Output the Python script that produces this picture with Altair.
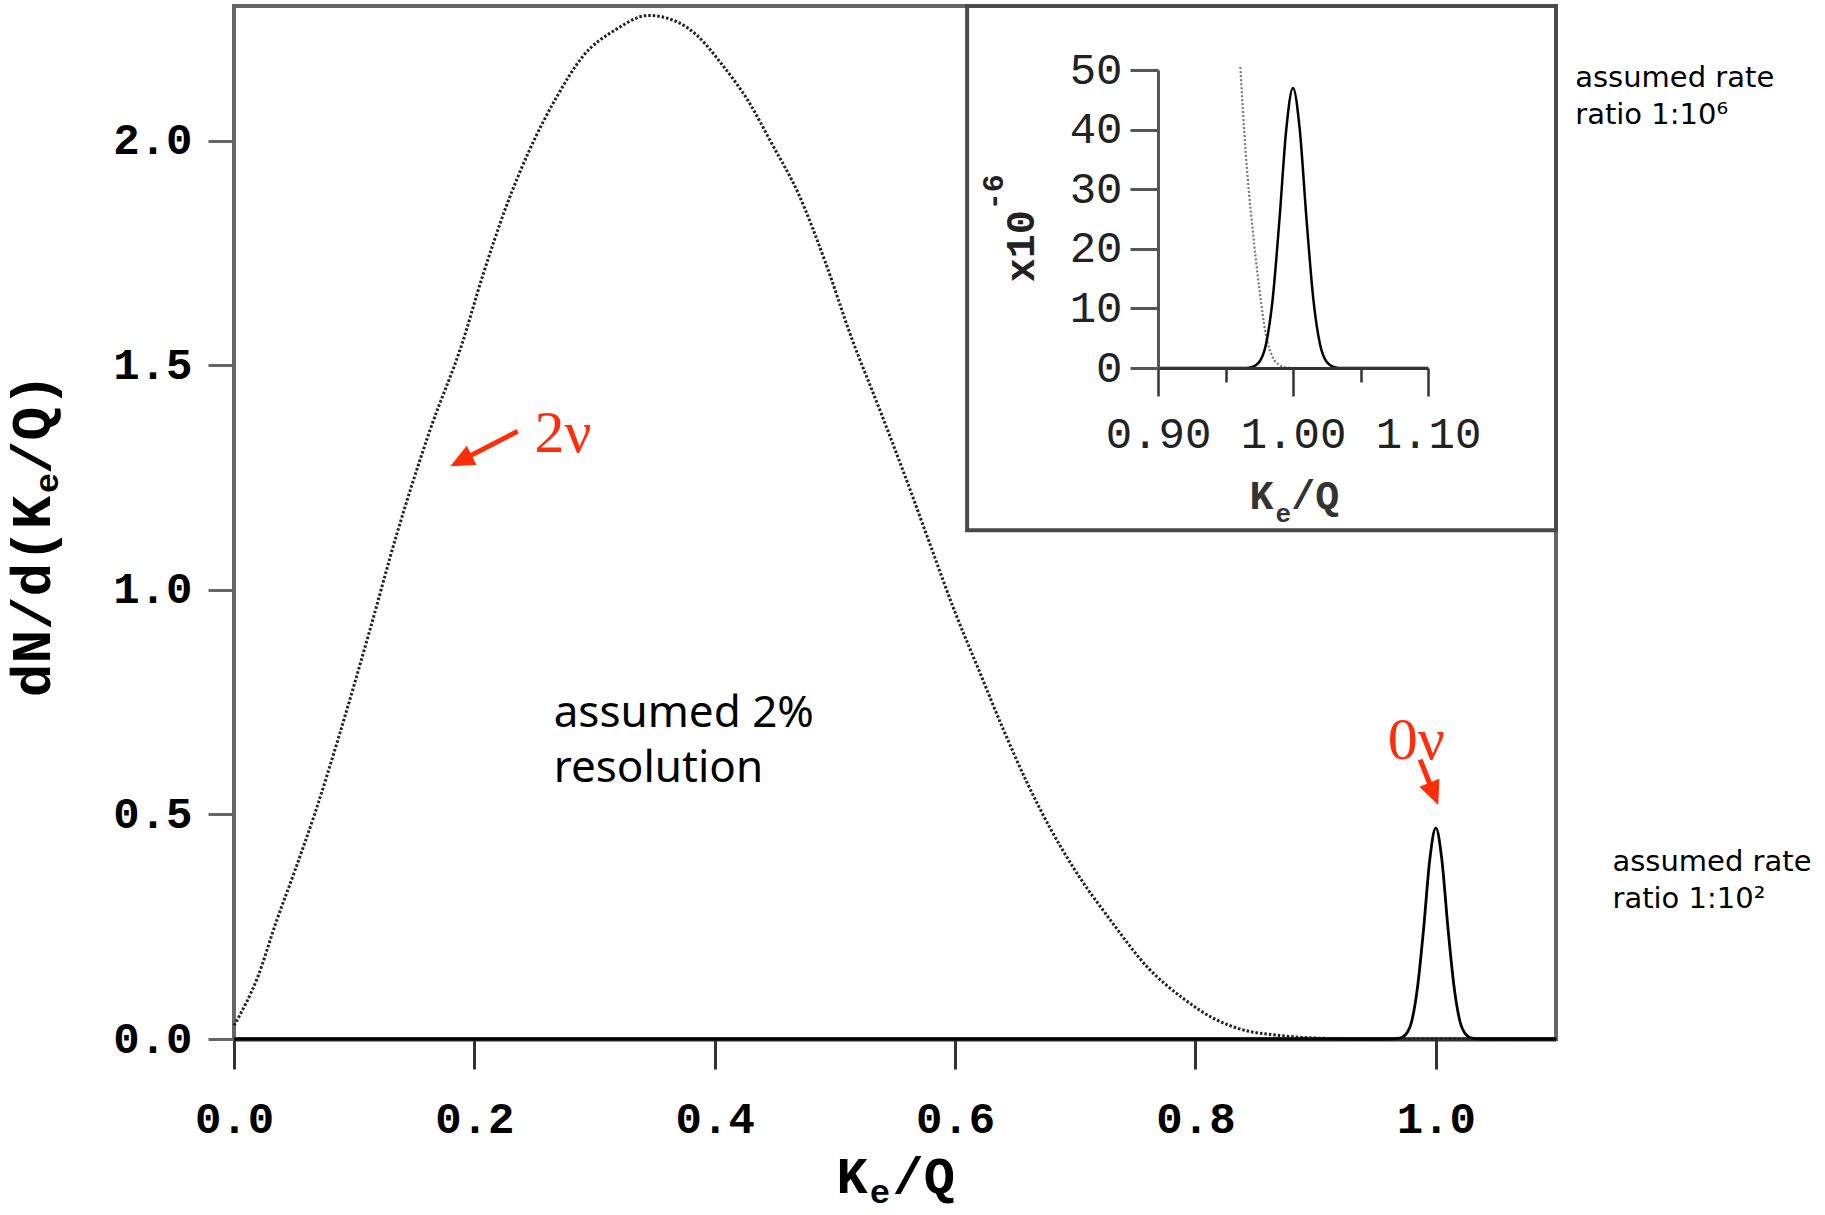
import altair as alt
import pandas as pd

# ---------------- data ----------------
# main panel: 2-neutrino spectrum (dotted)
two_nu_x = [0.000, 0.020, 0.035, 0.050, 0.067, 0.088, 0.113, 0.135, 0.163, 0.190, 0.207,
            0.226, 0.246, 0.268, 0.290, 0.318, 0.345, 0.370, 0.385, 0.406, 0.428, 0.447,
            0.470, 0.492, 0.514, 0.536, 0.558, 0.578, 0.600, 0.620, 0.640, 0.660, 0.680,
            0.700, 0.730, 0.760, 0.790, 0.815, 0.840, 0.870, 0.900, 0.950, 1.000, 1.100]
two_nu_y = [0.03, 0.14, 0.26, 0.37, 0.50, 0.68, 0.91, 1.12, 1.355, 1.55, 1.70,
            1.85, 1.98, 2.095, 2.187, 2.248, 2.279, 2.263, 2.235, 2.17, 2.088, 1.996,
            1.88, 1.73, 1.56, 1.41, 1.256, 1.11, 0.95, 0.82, 0.69, 0.57, 0.465,
            0.375, 0.262, 0.16, 0.09, 0.046, 0.02, 0.008, 0.002, 0.0, 0.0, 0.0]

# main panel: 0-neutrino peak (solid)
zero_nu_x = [0.0, 0.96, 0.97, 0.975, 0.98, 0.985, 0.99, 0.995, 1.0, 1.005, 1.01, 1.015,
             1.02, 1.025, 1.03, 1.04, 1.1]
zero_nu_y = [0.0, 0.0, 0.002, 0.01, 0.04, 0.12, 0.25, 0.40, 0.47, 0.40, 0.25, 0.12,
             0.04, 0.01, 0.002, 0.0, 0.0]

# inset: 2-neutrino tail (dotted), units of 1e-6
inset_tail_x = [0.961, 0.965, 0.970, 0.975, 0.980, 0.985, 0.990, 0.995, 1.000, 1.100]
inset_tail_y = [50.5, 36.0, 23.5, 13.4, 5.5, 1.8, 0.5, 0.1, 0.0, 0.0]

# inset: 0-neutrino peak (solid)
inset_peak_x = [0.90, 0.965, 0.97, 0.975, 0.98, 0.985, 0.99, 0.995, 1.0, 1.005, 1.01,
                1.015, 1.02, 1.025, 1.03, 1.035, 1.10]
inset_peak_y = [0.0, 0.0, 0.2, 1.0, 4.0, 11.7, 25.0, 40.0, 47.0, 40.0, 25.0,
                11.7, 4.0, 1.0, 0.2, 0.0, 0.0]

main_x_ticks = [0.0, 0.2, 0.4, 0.6, 0.8, 1.0]
main_y_ticks = [0.0, 0.5, 1.0, 1.5, 2.0]
inset_x_ticks = [0.90, 0.95, 1.00, 1.05, 1.10]
inset_y_ticks = [0, 10, 20, 30, 40, 50]

# annotation texts
red_labels = ["2ν", "0ν"]
note_texts = ["assumed 2%\nresolution", "assumed rate\nratio 1:10⁶",
              "assumed rate\nratio 1:10²"]

# ---------------- layout ----------------
W, H = 1322, 1033
PAD = {"left": 234, "top": 6, "right": 269, "bottom": 176}
MONO = "Liberation Mono"
NOTE_FONT = "Noto Sans"
RED = "#ff2d0a"

xs = alt.Scale(domain=[0, 1.1], nice=False, zero=False)
ys = alt.Scale(domain=[0, 2.3], nice=False, zero=False)

main_x_axis = alt.Axis(values=main_x_ticks, format=".1f", title=None,
                       labelFont=MONO, labelFontWeight="bold", labelFontSize=44,
                       labelColor="black", labelPadding=28, labelFlush=False,
                       labelOverlap=False, tickSize=30, tickWidth=3, tickColor="#333",
                       domainColor="#333", domainWidth=4, grid=False)
main_y_axis = alt.Axis(values=main_y_ticks, format=".1f", title=None,
                       labelFont=MONO, labelFontWeight="bold", labelFontSize=44,
                       labelColor="black", labelPadding=16, labelFlush=False,
                       labelOverlap=False, tickSize=26, tickWidth=3, tickColor="#666",
                       domainColor="#666", domainWidth=3, grid=False)

X = alt.X("x:Q", scale=xs, axis=main_x_axis)
Y = alt.Y("y:Q", scale=ys, axis=main_y_axis)

# inset box (frame drawn in main data coordinates)
box_df = pd.DataFrame({"x": [0.610], "x2": [1.1], "y": [1.133], "y2": [2.3]})
box = alt.Chart(box_df).mark_rect(fill="white", fillOpacity=0, stroke="#4a4a4a",
                                  strokeWidth=4).encode(
    x=X, x2="x2:Q", y=Y, y2="y2:Q")

df2 = pd.DataFrame({"x": two_nu_x, "y": two_nu_y})
line2 = alt.Chart(df2).mark_line(color="#222", strokeWidth=3, strokeDash=[2.5, 2],
                                 interpolate="monotone").encode(x=X, y=Y)

df0 = pd.DataFrame({"x": zero_nu_x, "y": zero_nu_y})
line0 = alt.Chart(df0).mark_line(color="black", strokeWidth=2.8,
                                 interpolate="monotone").encode(x=X, y=Y)

# red labels + arrows
red_df = pd.DataFrame({"t": red_labels, "x": [0.250, 0.960], "y": [1.306, 0.623]})
red_text = alt.Chart(red_df).mark_text(font="Liberation Serif", fontSize=60, color=RED,
                                       align="left", baseline="alphabetic").encode(
    x=X, y=Y, text="t:N")
arrow_df = pd.DataFrame({"x": [0.236, 0.987], "y": [1.353, 0.622],
                         "x2": [0.1944, 0.9959], "y2": [1.2956, 0.5622]})
arrows = alt.Chart(arrow_df).mark_rule(color=RED, strokeWidth=5).encode(
    x=X, y=Y, x2="x2:Q", y2="y2:Q")
head_df = pd.DataFrame({"x": [0.180, 1.002], "y": [1.275, 0.521], "a": [242.8, 158.4]})
heads = alt.Chart(head_df).mark_point(shape="M0,0L0.45,1L-0.45,1Z", filled=True,
                                      fill=RED, color=RED, opacity=1, size=2300,
                                      strokeWidth=0).encode(
    x=X, y=Y, angle=alt.Angle("a:Q", scale=None))

# black notes (two lines each)
note_big = alt.Chart(pd.DataFrame({"t": [note_texts[0]], "x": [0.266], "y": [0.694]})
                     ).mark_text(font=NOTE_FONT, fontSize=44, color="black", align="left",
                                 baseline="alphabetic", lineBreak="\n", lineHeight=55
                                 ).encode(x=X, y=Y, text="t:N")
note_small = alt.Chart(pd.DataFrame({"t": note_texts[1:], "x": [1.116, 1.147],
                                     "y": [2.119, 0.374]})
                       ).mark_text(font="DejaVu Sans", fontSize=29, color="black",
                                   align="left", baseline="alphabetic", lineBreak="\n",
                                   lineHeight=37).encode(x=X, y=Y, text="t:N")

# main x title  K_e/Q
xt_df = pd.DataFrame({"t": ["K", "e", "/Q"], "x": [0.5272, 0.5289, 0.548],
                      "y": [-0.3428, -0.3651, -0.3428], "s": [52, 34, 52],
                      "al": ["right", "left", "left"]})
xt_main = alt.Chart(xt_df[xt_df.al == "right"]).mark_text(
    font=MONO, fontWeight="bold", color="black", align="right", baseline="alphabetic"
).encode(x=X, y=Y, text="t:N", size=alt.Size("s:Q", scale=None))
xt_rest = alt.Chart(xt_df[xt_df.al == "left"]).mark_text(
    font=MONO, fontWeight="bold", color="black", align="left", baseline="alphabetic"
).encode(x=X, y=Y, text="t:N", size=alt.Size("s:Q", scale=None))

# main y title  dN/d(K_e/Q), rotated
yt_df = pd.DataFrame({"t": ["dN/d(K", "e", "/Q)"], "x": [-0.153, -0.1464, -0.153],
                      "y": [0.761, 1.215, 1.2575], "s": [56, 34, 56]})
yt = alt.Chart(yt_df).mark_text(font=MONO, fontWeight="bold", color="black", angle=270,
                                align="left", baseline="alphabetic").encode(
    x=X, y=Y, text="t:N", size=alt.Size("s:Q", scale=None))

# inset x title  K_e/Q
it_df = pd.DataFrame({"t": ["K", "e", "/Q"], "x": [0.8649, 0.8665, 0.8798],
                      "y": [1.1796, 1.1507, 1.1796], "s": [40, 26, 40]})
it_k = alt.Chart(it_df.iloc[[0]]).mark_text(font=MONO, fontWeight="bold", color="#333",
                                            align="right", baseline="alphabetic").encode(
    x=X, y=Y, text="t:N", size=alt.Size("s:Q", scale=None))
it_rest = alt.Chart(it_df.iloc[[1, 2]]).mark_text(font=MONO, fontWeight="bold",
                                                  color="#333", align="left",
                                                  baseline="alphabetic").encode(
    x=X, y=Y, text="t:N", size=alt.Size("s:Q", scale=None))

# inset y title  x10^-6, rotated
iy_df = pd.DataFrame({"t": ["x10", "-6"], "x": [0.6653, 0.6395], "y": [1.6849, 1.8451],
                      "s": [40, 30]})
iy = alt.Chart(iy_df).mark_text(font=MONO, fontWeight="bold", color="#222", angle=270,
                                align="left", baseline="alphabetic").encode(
    x=X, y=Y, text="t:N", size=alt.Size("s:Q", scale=None))

main = alt.layer(box, line2, line0, note_big, note_small, red_text, arrows, heads,
                 xt_main, xt_rest, yt, it_k, it_rest, iy)

# ---------------- inset ----------------
INSET_X0, INSET_X1 = 924, 1194
INSET_Y0, INSET_Y50 = 362, 64
ixs = alt.Scale(domain=[0.9, 1.1], range=[INSET_X0, INSET_X1], nice=False, zero=False)
iys = alt.Scale(domain=[0, 50], range=[INSET_Y0, INSET_Y50], nice=False, zero=False)

MINOR = "(datum.value > 0.94 && datum.value < 0.96) || (datum.value > 1.04 && datum.value < 1.06)"
inset_x_axis = alt.Axis(orient="bottom", offset=-(H - INSET_Y0), values=inset_x_ticks,
                        labelExpr=MINOR + " ? '' : format(datum.value, '.2f')",
                        title=None, labelFont=MONO, labelFontSize=44, labelColor="#222",
                        labelPadding=16, labelFlush=False, labelOverlap=False,
                        tickSize={"condition": {"test": MINOR, "value": 14}, "value": 28},
                        tickWidth=2.5, tickColor="#333", domainColor="#333",
                        domainWidth=3, grid=False, zindex=2)
inset_y_axis = alt.Axis(orient="left", offset=-INSET_X0, values=inset_y_ticks, format="d",
                        title=None, labelFont=MONO, labelFontSize=44, labelColor="#222",
                        labelPadding=8, labelFlush=False, labelOverlap=False,
                        tickSize=28, tickWidth=3, tickColor="#555", domainColor="#555",
                        domainWidth=3, grid=False, zindex=2)

IX = alt.X("x:Q", scale=ixs, axis=inset_x_axis)
IY = alt.Y("y:Q", scale=iys, axis=inset_y_axis)

tail_df = pd.DataFrame({"x": inset_tail_x, "y": inset_tail_y})
tail = alt.Chart(tail_df).mark_line(color="#777", strokeWidth=2.2, strokeDash=[2, 2],
                                    interpolate="monotone").encode(x=IX, y=IY)
peak_df = pd.DataFrame({"x": inset_peak_x, "y": inset_peak_y})
peak = alt.Chart(peak_df).mark_line(color="black", strokeWidth=2.5,
                                    interpolate="monotone").encode(x=IX, y=IY)
inset = alt.layer(tail, peak)

chart = alt.layer(main, inset).resolve_scale(x="independent", y="independent").properties(
    width=W, height=H, padding=PAD, autosize=alt.AutoSizeParams(type="none"),
    background="white"
).configure_view(stroke="#666", strokeWidth=4).configure_axis(grid=False)

chart.save("out.html", embed_options={"renderer": "svg", "actions": False})
